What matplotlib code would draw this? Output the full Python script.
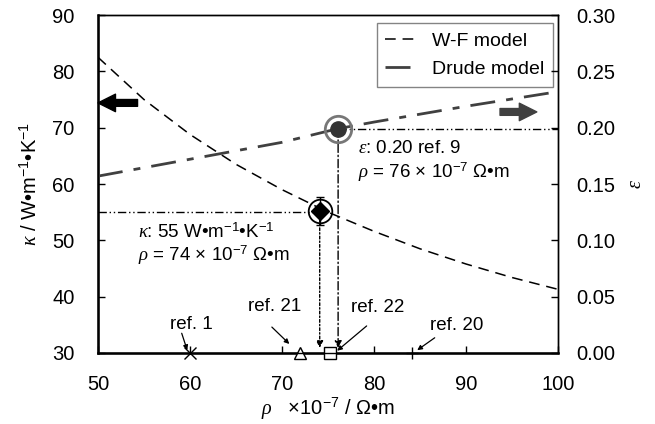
import matplotlib
matplotlib.use("Agg")
import matplotlib.pyplot as plt

plt.rcParams['font.family'] = ['Liberation Sans', 'DejaVu Sans']
plt.rcParams['mathtext.fontset'] = 'custom'
plt.rcParams['mathtext.rm'] = 'Liberation Sans'
plt.rcParams['mathtext.it'] = 'Liberation Serif:italic'
plt.rcParams['mathtext.bf'] = 'Liberation Sans:bold'

# W-F model (kappa vs rho)
wf_rho = [50, 55, 60, 65, 70, 75, 80, 85, 90, 95, 100]
wf_kappa = [82.5, 75.0, 68.8, 63.5, 59.0, 55.0, 51.6, 48.5, 45.8, 43.4, 41.3]

# Drude model (epsilon vs rho)
dr_rho = [50, 60, 70, 76, 80, 90, 100]
dr_eps = [0.157, 0.172, 0.187, 0.199, 0.205, 0.219, 0.232]

# measured points
kappa_pt = (74.1, 55.2)
kappa_err = 2.5
eps_pt = (76.1, 0.199)

# literature resistivities on the x axis
ref_labels = ['ref. 1', 'ref. 21', 'ref. 22', 'ref. 20']
ref_rho = [60.0, 72.0, 75.2, 84.1]
ref_markers = ['x', '^', 's', '+']

fig = plt.figure(figsize=(6.55, 4.24), dpi=100)
ax = fig.add_axes([0.1496, 0.1675, 0.7023, 0.797])
ax2 = ax.twinx()

FS = 14.5
ax.set_xlim(50, 100)
ax.set_ylim(30, 90)
ax2.set_ylim(0, 0.30)
ax.set_xticks([50, 60, 70, 80, 90, 100])
ax.set_yticks([30, 40, 50, 60, 70, 80, 90])
ax2.set_yticks([0, 0.05, 0.10, 0.15, 0.20, 0.25, 0.30])
ax2.set_yticklabels(['%.2f' % v for v in ax2.get_yticks()])
for a in (ax, ax2):
    a.tick_params(direction='in', length=5, width=1, labelsize=FS)
    for s in a.spines.values():
        s.set_linewidth(1.0)
ax.tick_params(axis='y', pad=17)
ax.tick_params(axis='x', pad=16)
ax2.tick_params(axis='y', pad=13)
ax.spines['bottom'].set_linewidth(1.8)
ax.spines['left'].set_linewidth(1.8)

# models
l1, = ax.plot(wf_rho, wf_kappa, color='black', lw=1.1, dashes=(7, 4.5), label='W-F model')
l2, = ax2.plot(dr_rho, dr_eps, color='#404040', lw=2.0, dashes=(9, 4, 2.5, 4), label='Drude model')

# guide lines
ddd = (6, 2, 1, 2, 1, 2)
ax.plot([50, kappa_pt[0]], [55, 55], color='black', lw=1.0, dashes=ddd)
ax.annotate('', xy=(kappa_pt[0], 30.9), xytext=(kappa_pt[0], kappa_pt[1] - 1.5),
            arrowprops=dict(arrowstyle='-|>', color='black', lw=1.0, linestyle=(0, (2, 1.5, 1, 1.5)),
                            mutation_scale=10, shrinkA=0, shrinkB=0))
ax2.plot([eps_pt[0], 100], [eps_pt[1], eps_pt[1]], color='black', lw=1.0, dashes=ddd)
ax2.annotate('', xy=(eps_pt[0], 0.0045), xytext=(eps_pt[0], eps_pt[1]),
             arrowprops=dict(arrowstyle='-|>', color='black', lw=1.0, linestyle=(0, (6, 2, 1, 2)),
                             mutation_scale=10, shrinkA=0, shrinkB=0))

# data points
ax.errorbar([kappa_pt[0]], [kappa_pt[1]], yerr=[kappa_err], fmt='none', ecolor='black',
            elinewidth=1.0, capsize=3, zorder=5)
ax.plot([kappa_pt[0]], [kappa_pt[1]], marker='D', ms=9, color='black', zorder=6, ls='none')
ax.plot([kappa_pt[0]], [kappa_pt[1]], marker='o', ms=17, mfc='none', mec='black', mew=1.3,
        zorder=6, ls='none')
ax2.plot([eps_pt[0]], [eps_pt[1]], marker='o', ms=11, color='#333333', zorder=6, ls='none')
ax2.plot([eps_pt[0]], [eps_pt[1]], marker='o', ms=19, mfc='none', mec='#777777', mew=2,
         zorder=6, ls='none')

# axis markers
for r, m in zip(ref_rho, ref_markers):
    ax.plot([r], [30], marker=m, ms=9, mfc='white', mec='black', mew=1.0, ls='none',
            clip_on=False, zorder=7)

ref_text_pos = [(60.1, 35.0), (69.2, 38.2), (80.4, 38.0), (89.0, 34.8)]
ref_arrow_from = [(59.1, 33.5), (68.9, 34.6), (79.2, 34.8), (86.6, 32.7)]
ref_arrow_to = [(59.7, 30.5), (70.8, 31.6), (76.0, 30.4), (84.7, 30.5)]
for lab, tp, af, at in zip(ref_labels, ref_text_pos, ref_arrow_from, ref_arrow_to):
    ax.text(tp[0], tp[1], lab, fontsize=13.5, ha='center', va='center')
    ax.annotate('', xy=at, xytext=af,
                arrowprops=dict(arrowstyle='-|>', color='black', lw=0.9, mutation_scale=7,
                                shrinkA=0, shrinkB=0))

# annotation texts
AF = 13.5
ax.text(54.4, 51.4, r'$\kappa$: 55 W•m$^{-1}$•K$^{-1}$', fontsize=AF, ha='left', va='center')
ax.text(54.4, 47.3, r'$\rho$ = 74 × 10$^{-7}$ Ω•m', fontsize=AF, ha='left', va='center')
ax.text(78.3, 66.3, r'$\varepsilon$: 0.20 ref. 9', fontsize=AF, ha='left', va='center')
ax.text(78.3, 62.0, r'$\rho$ = 76 × 10$^{-7}$ Ω•m', fontsize=AF, ha='left', va='center')

# big arrows
ax.annotate('', xy=(50.0, 74.4), xytext=(54.3, 74.4),
            arrowprops=dict(arrowstyle='simple,head_length=0.9,head_width=0.9,tail_width=0.35',
                            color='black', mutation_scale=14, shrinkA=0, shrinkB=0))
ax2.annotate('', xy=(97.7, 0.214), xytext=(93.7, 0.214),
             arrowprops=dict(arrowstyle='simple,head_length=0.9,head_width=0.9,tail_width=0.35',
                             color='#404040', mutation_scale=14, shrinkA=0, shrinkB=0))

# labels
ax.set_ylabel(r'$\kappa$ / W•m$^{-1}$•K$^{-1}$', fontsize=FS, labelpad=8)
ax2.set_ylabel(r'$\varepsilon$', fontsize=FS, labelpad=8)
ax.set_xlabel(r'$\rho$   ×10$^{-7}$ / Ω•m', fontsize=FS, labelpad=1)

leg = ax.legend(handles=[l1, l2], loc='upper right', bbox_to_anchor=(0.989, 0.976),
                fontsize=14, frameon=True, fancybox=False, edgecolor='#666666',
                handlelength=1.7, handletextpad=0.7, borderpad=0.45, labelspacing=0.55,
                borderaxespad=0)
leg.get_frame().set_linewidth(1.0)
leg.set_zorder(10)

fig.savefig('out.png', dpi=100)
